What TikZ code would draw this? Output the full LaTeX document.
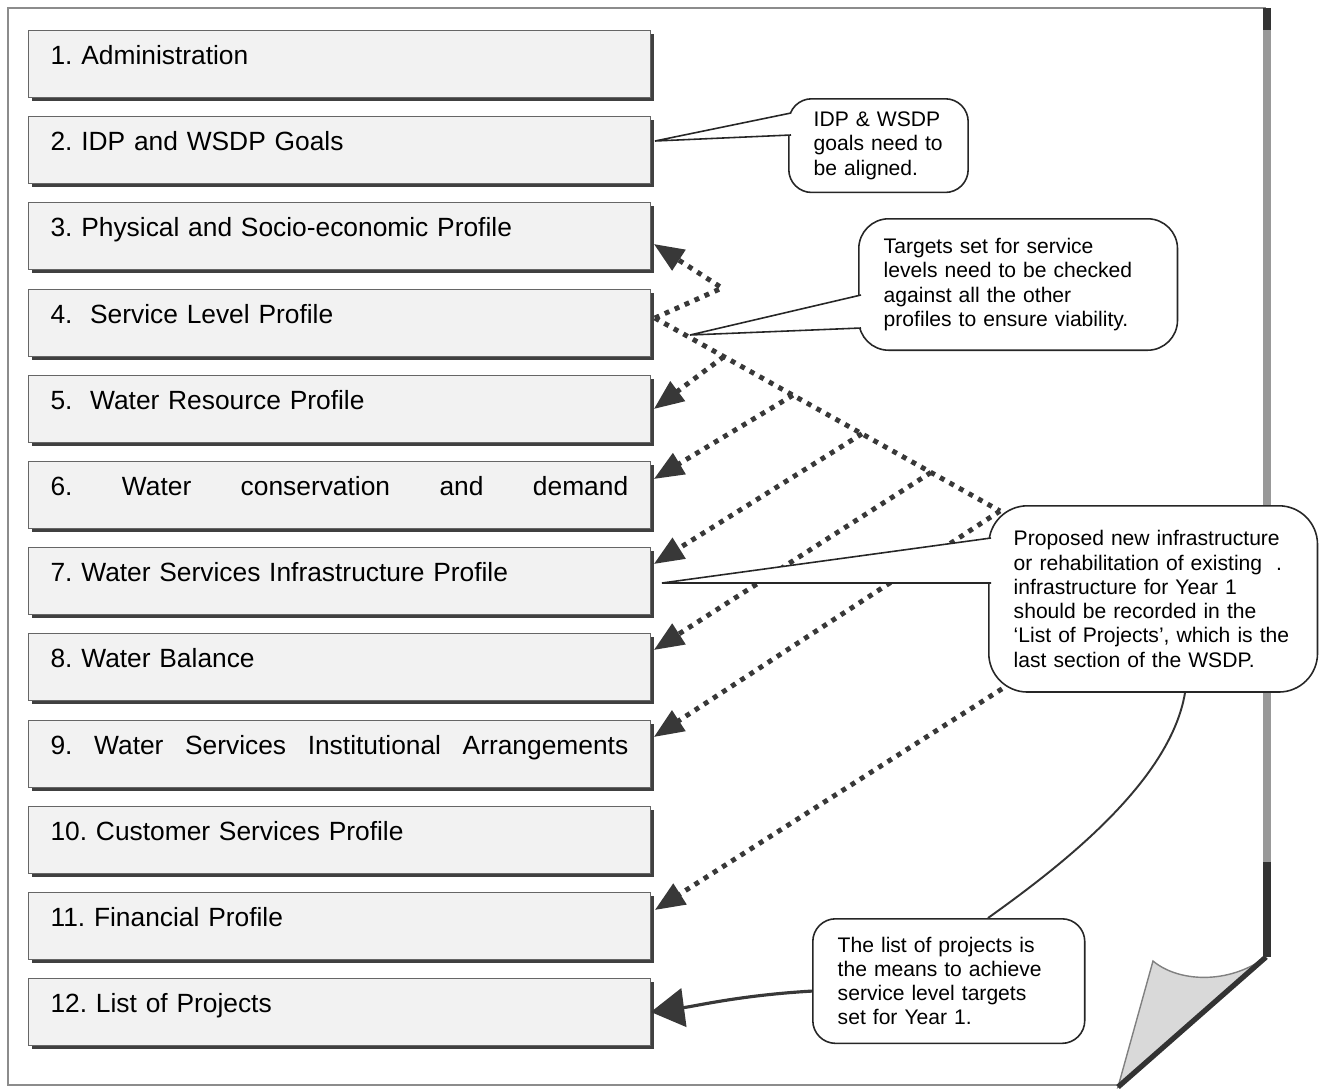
\documentclass[tikz,border=0pt]{standalone}
\usepackage{fontspec}
\setmainfont{Liberation Sans}
\usetikzlibrary{arrows.meta,calc,shadows,positioning}
\pgfdeclarelayer{paper}
\pgfdeclarelayer{links}
\pgfsetlayers{paper,links,main}
\frenchspacing

\newcommand{\boxfont}{\fontsize{15}{18}\selectfont}
\newcommand{\notefont}{\fontsize{12}{13.8}\selectfont}

\tikzset{
  section/.style={anchor=north west, draw=black!60, fill=black!5, line width=0.7pt,
    text width=328.8pt, inner xsep=12.5pt, inner ysep=0pt,
    text height=19.5pt, text depth=18.5pt, align=left, font=\boxfont,
    drop shadow={shadow xshift=2pt, shadow yshift=-2pt, fill=black!75, opacity=1}},
  note/.style={anchor=north west, draw=black!85, fill=white, line width=0.9pt,
    rounded corners=13pt, inner xsep=14.2pt, inner ysep=0pt, align=left, font=\notefont},
  pointer/.style={draw=black!85, fill=white, line width=0.9pt},
  feed/.style={draw=black!78, line width=2.8pt, dash pattern=on 2.8pt off 3.4pt,
    -{Triangle[length=17pt,width=13.5pt]}},
  bigarrow/.style={draw=black!78, line width=1.8pt, -{Triangle[length=19pt,width=22pt]}},
}

\begin{document}
\begin{tikzpicture}[x=0.02cm,y=-0.02cm]
\useasboundingbox (0,0) rectangle (1319,1089);

% the page with its curled corner
\begin{pgfonlayer}{paper}
\draw[black!45, line width=0.9pt] (1266,8) -- (8,8) -- (8,1085) -- (1118,1085);
\draw[black!40, line width=4.5pt] (1267,8) -- (1267,957);
\draw[black!80, line width=4.5pt] (1267,8) -- (1267,30);
\draw[black!80, line width=4.5pt] (1267,862) -- (1267,957);
\draw[black!50, fill=black!15, line width=0.8pt] (1118,1087) -- (1153,961)
  .. controls (1178,982) and (1228,985) .. (1266,957) -- cycle;
\draw[black!80, line width=3pt] (1266,957) -- (1118,1087);
\end{pgfonlayer}

% sections of the plan
\node (b1) at (28,30) [section] {1. Administration};
\node (b2) at (28,116) [section] {2. IDP and WSDP Goals};
\node (b3) at (28,202) [section] {3. Physical and Socio-economic Profile};
\node (b4) at (28,289) [section] {4.\ \ Service Level Profile};
\node (b5) at (28,375) [section] {5.\ \ Water Resource Profile};
\node (b6) at (28,461) [section] {6.\hfill Water\hfill conservation\hfill and\hfill demand};
\node (b7) at (28,547) [section] {7. Water Services Infrastructure Profile};
\node (b8) at (28,633) [section] {8. Water Balance};
\node (b9) at (28,720) [section] {9.\hfill Water\hfill Services\hfill Institutional\hfill Arrangements};
\node (b10) at (28,806) [section] {10. Customer Services Profile};
\node (b11) at (28,892) [section] {11. Financial Profile};
\node (b12) at (28,978) [section] {12. List of Projects};

% remarks
\node (c1) at (788,98) [note, text width=73.7pt, minimum height=53.3pt]
  {IDP \& WSDP\\goals need to\\be aligned.};
\node (c2) at (858,218) [note, text width=153pt, minimum height=74.8pt, rounded corners=17pt]
  {Targets set for service\\levels need to be checked\\against all the other\\profiles to ensure viability.};
\node (c3) at (988,505) [note, text width=158.7pt, minimum height=106pt, rounded corners=22pt]
  {Proposed new infrastructure\\or rehabilitation of existing\ \ .\\infrastructure for Year 1\\should be recorded in the\\‘List of Projects’, which is the\\last section of the WSDP.};
\node (c4) at (812,918) [note, text width=126.4pt, minimum height=70.9pt]
  {The list of projects is\\the means to achieve\\service level targets\\set for Year 1.};

% end points of the links
\coordinate (s4) at ($(b4.north east)+(4,29)$);
\coordinate (k3) at (722,288);
\coordinate (k9) at ($(c3.north west)+(12,6)$);
\coordinate (k11) at ($(c3.south west)+(14,-4)$);
\foreach \n/\f in {5/0.2,6/0.4,7/0.6,8/0.8}
  \coordinate (j\n) at ($(s4)!\f!(k9)$);
\coordinate (t3) at ($(b3.north east)+(3,42)$);
\coordinate (t5) at ($(b5.east)+(3,0)$);
\coordinate (t6) at ($(b6.north east)+(3,18)$);
\coordinate (t7) at ($(b7.north east)+(3,17)$);
\coordinate (t8) at ($(b8.north east)+(3,17)$);
\coordinate (t9) at ($(b9.north east)+(3,17)$);
\coordinate (t11) at ($(b11.north east)+(4,18)$);

\begin{pgfonlayer}{links}
\draw[feed] (s4) -- (k3) -- (t3);
\draw[feed, -] (s4) -- (k9);
\foreach \n in {5,...,8}
  \draw[feed] (j\n) -- (t\n);
\draw[feed] (k9) -- (t9);
\draw[feed] (k11) -- (t11);
\end{pgfonlayer}

% callout pointers
\coordinate (w1) at (655,141);
\coordinate (w2) at (690,335);
\coordinate (w3) at (662,583);
\draw[pointer] ($(c1.north west)+(3,15)$) -- (w1) -- ($(c1.north west)+(3,37)$);
\draw[pointer] ($(c2.north west)+(3,77)$) -- (w2) -- ($(c2.north west)+(3,110)$);
\draw[pointer] ($(c3.north west)+(3,33)$) -- (w3) -- ($(c3.north west)+(3,78)$);

% from the projects remark to the list of projects
\coordinate (r3) at ($(c3.south west)+(197,0)$);
\coordinate (r4) at ($(c4.north west)+(176,0)$);
\coordinate (r5) at ($(c4.west)+(0,10)$);
\draw[black!80, line width=1.1pt] (r3) .. controls +(-15,90) and +(70,-50) .. (r4);
\draw[bigarrow] (r5) .. controls +(-70,4) and +(45,-6) .. (b12.east);
\end{tikzpicture}
\end{document}
